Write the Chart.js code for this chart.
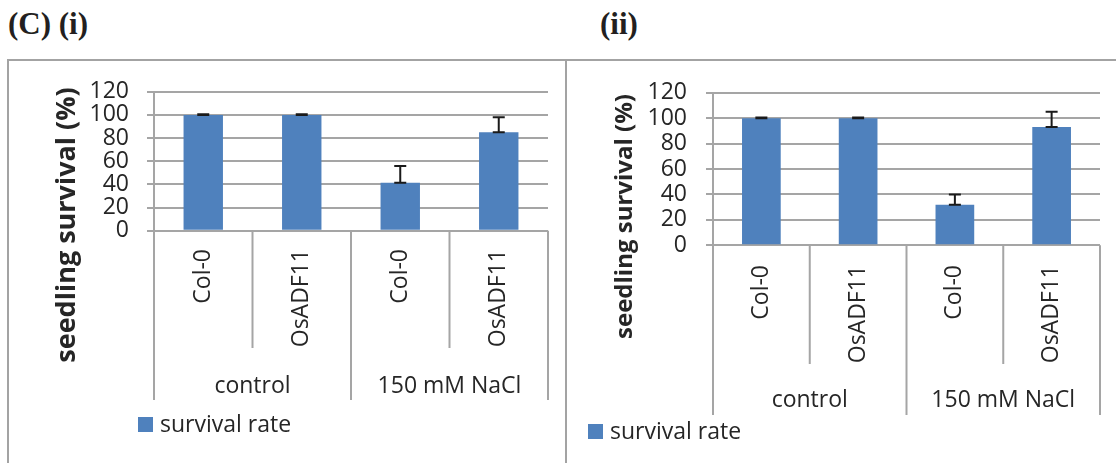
<!DOCTYPE html>
<html>
<head>
<meta charset="utf-8">
<script src="https://cdn.jsdelivr.net/npm/chart.js@4/dist/chart.umd.min.js"></script>
<style>
    html, body { margin: 0; padding: 0; background: #fff; }
    body { width: 1116px; height: 463px; position: relative; overflow: hidden; }
    .heading { position: absolute; top: 8px; font: bold 31px "Liberation Serif", serif; color: #231f20; line-height: 31px; white-space: pre; }
    .frame { position: absolute; top: 59px; height: 430px; border: 2px solid #a3a3a3; box-sizing: border-box; }
    canvas { position: absolute; }
</style>
</head>
<body>
<div class="heading" style="left:8px">(C) (i)</div>
<div class="heading" style="left:600px">(ii)</div>
<div class="frame" style="left:7px; width:560px"></div>
<div class="frame" style="left:565px; width:560px"></div>
<canvas id="chartI" width="557" height="403" style="left:8px; top:60px"></canvas>
<canvas id="chartII" width="550" height="403" style="left:566px; top:60px"></canvas>

<script>
// categories and groups (two lines of the category axis)
const categories = ['Col-0', 'OsADF11', 'Col-0', 'OsADF11'];
const groups = ['control', '150 mM NaCl'];
const seriesName = 'survival rate';
const yAxisTitle = 'seedling survival (%)';

// y axis range
const Y_MIN = 0;
const Y_MAX = 120;
const Y_STEP = 20;

// panel (i)
const survivalI = [100, 100, 41.5, 85];
const errorI = [0.5, 0.5, 14.5, 13];

// panel (ii)
const survivalII = [100, 100, 32, 93];
const errorII = [0.5, 0.5, 8, 12];

// styles
const BAR_COLOR = '#4f81bd';
const LINE_COLOR = '#a5a5a5';
const TEXT_COLOR = '#262626';
const FONT = '"Open Sans"';

/**
 * error bars: line from value up to value + err, with caps at both ends
 */
const errorBarPlugin = {
    id: 'errorBars',
    afterDatasetsDraw(chart) {
        const { ctx, scales: { y } } = chart;
        const ds = chart.data.datasets[0];
        const meta = chart.getDatasetMeta(0);
        ctx.save();
        ctx.strokeStyle = '#1a1a1a';
        ctx.lineWidth = 2;
        meta.data.forEach((bar, i) => {
            const v = ds.data[i];
            const yLow = y.getPixelForValue(v);
            const yHigh = y.getPixelForValue(v + ds.errors[i]);
            ctx.beginPath();
            ctx.moveTo(bar.x, yLow);
            ctx.lineTo(bar.x, yHigh);
            ctx.moveTo(bar.x - 6, yHigh);
            ctx.lineTo(bar.x + 6, yHigh);
            ctx.moveTo(bar.x - 6, yLow);
            ctx.lineTo(bar.x + 6, yLow);
            ctx.stroke();
        });
        ctx.restore();
    }
};

/**
 * category table under the plot, axis title and legend
 */
const decorPlugin = {
    id: 'decor',
    afterDraw(chart, args, opts) {
        const { ctx, chartArea, scales: { x, y } } = chart;
        const base = y.getPixelForValue(0);
        const n = categories.length;

        // edges between categories
        const edges = [];
        for (let i = 0; i <= n; i++) {
            if (i === 0) edges.push(chartArea.left);
            else if (i === n) edges.push(chartArea.right);
            else edges.push((x.getPixelForValue(i - 1) + x.getPixelForValue(i)) / 2);
        }

        ctx.save();
        ctx.strokeStyle = LINE_COLOR;
        ctx.lineWidth = 2;
        ctx.beginPath();
        edges.forEach((ex, i) => {
            const bottom = i % 2 === 0 ? opts.tableBottom : opts.innerBottom;
            ctx.moveTo(ex, base);
            ctx.lineTo(ex, bottom);
        });
        ctx.stroke();

        ctx.fillStyle = TEXT_COLOR;
        ctx.font = `23px ${FONT}`;

        // rotated category labels
        categories.forEach((label, i) => {
            ctx.save();
            ctx.translate(x.getPixelForValue(i), opts.labelTop);
            ctx.rotate(-Math.PI / 2);
            ctx.textAlign = 'right';
            ctx.textBaseline = 'middle';
            ctx.fillText(label, 0, 0);
            ctx.restore();
        });

        // group labels
        ctx.textAlign = 'center';
        ctx.textBaseline = 'alphabetic';
        groups.forEach((g, i) => {
            const cx = (edges[i * 2] + edges[i * 2 + 2]) / 2;
            ctx.fillText(g, cx, opts.groupBaseline);
        });

        // legend
        const ds = chart.data.datasets[0];
        ctx.fillStyle = ds.backgroundColor;
        ctx.fillRect(opts.legendX, opts.legendY, 15, 15);
        ctx.fillStyle = TEXT_COLOR;
        ctx.textAlign = 'left';
        ctx.fillText(ds.label, opts.legendX + 22, opts.legendY + 15);

        // y axis title
        ctx.save();
        ctx.translate(opts.titleX, opts.titleY);
        ctx.rotate(-Math.PI / 2);
        ctx.font = `bold ${opts.titleSize}px ${FONT}`;
        ctx.textAlign = 'center';
        ctx.textBaseline = 'alphabetic';
        ctx.fillText(yAxisTitle, 0, 0);
        ctx.restore();

        ctx.restore();
    }
};

function makeChart(id, values, errors, layout) {
    return new Chart(document.getElementById(id), {
        type: 'bar',
        data: {
            labels: categories,
            datasets: [{
                label: seriesName,
                data: values,
                errors: errors,
                backgroundColor: BAR_COLOR,
                barPercentage: 0.4,
                categoryPercentage: 1
            }]
        },
        options: {
            responsive: false,
            animation: false,
            layout: {
                padding: { top: 24, right: layout.right, bottom: layout.bottom, left: 0 }
            },
            plugins: {
                legend: { display: false },
                tooltip: { enabled: false },
                decor: layout.decor
            },
            scales: {
                x: { display: false },
                y: {
                    min: Y_MIN,
                    max: Y_MAX,
                    ticks: {
                        stepSize: Y_STEP,
                        autoSkip: false,
                        padding: layout.tickPadding,
                        color: TEXT_COLOR,
                        font: { family: FONT, size: 23 }
                    },
                    grid: { color: LINE_COLOR, lineWidth: 2, tickLength: 7 },
                    border: { color: LINE_COLOR, width: 2 },
                    afterFit: s => { s.width = layout.axisWidth; }
                }
            }
        },
        plugins: [errorBarPlugin, decorPlugin]
    });
}

makeChart('chartI', survivalI, errorI, {
    axisWidth: 146, right: 17, bottom: 232.3, tickPadding: 18,
    decor: {
        tableBottom: 340, innerBottom: 288, labelTop: 189, groupBaseline: 333,
        legendX: 130, legendY: 357,
        titleX: 67, titleY: 165, titleSize: 27
    }
});

makeChart('chartII', survivalII, errorII, {
    axisWidth: 147, right: 16, bottom: 217.7, tickPadding: 19,
    decor: {
        tableBottom: 355, innerBottom: 304, labelTop: 205, groupBaseline: 347,
        legendX: 22, legendY: 364,
        titleX: 66, titleY: 156.5, titleSize: 24
    }
});
</script>
</body>
</html>
